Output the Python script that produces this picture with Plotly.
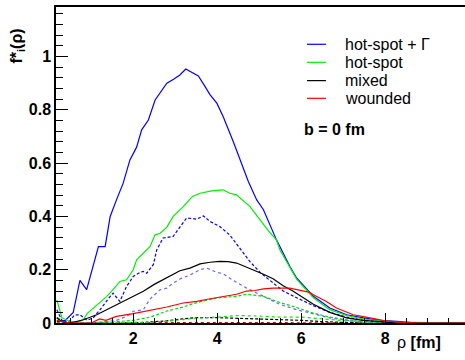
import plotly.graph_objects as go

# ---- data ----
hsg_x = [0.18, 0.38, 0.57, 0.73, 0.89, 1.17, 1.33, 1.45, 1.6, 1.76, 1.92, 2.08, 2.2, 2.36, 2.52, 2.66, 2.8, 2.96, 3.11, 3.25, 3.4, 3.55, 3.7, 3.83, 3.99, 4.14, 4.38, 4.58, 4.74, 4.94, 5.1, 5.41, 5.73, 5.89, 6.29, 6.68, 7.08, 7.48, 7.87, 8.27, 8.6, 9.9]
hsg_y = [0.005, 0.01, 0.04, 0.16, 0.125, 0.287, 0.287, 0.40, 0.462, 0.525, 0.612, 0.66, 0.725, 0.762, 0.837, 0.87, 0.90, 0.915, 0.931, 0.953, 0.94, 0.927, 0.89, 0.856, 0.825, 0.775, 0.681, 0.60, 0.531, 0.462, 0.425, 0.312, 0.212, 0.169, 0.10, 0.056, 0.031, 0.019, 0.01, 0.006, 0.002, 0.0]

hs_x = [0.18, 0.3, 0.5, 0.7, 0.81, 0.9, 1.05, 1.2, 1.37, 1.52, 1.68, 1.84, 2.0, 2.08, 2.24, 2.4, 2.52, 2.64, 2.8, 2.95, 3.19, 3.41, 3.59, 3.87, 4.14, 4.3, 4.46, 4.62, 4.78, 5.02, 5.25, 5.41, 5.49, 5.89, 6.29, 6.68, 7.08, 7.48, 7.87, 8.27, 9.9]
hs_y = [0.087, 0.02, 0.005, 0.005, 0.012, 0.035, 0.056, 0.075, 0.10, 0.125, 0.156, 0.162, 0.20, 0.237, 0.262, 0.287, 0.331, 0.337, 0.36, 0.40, 0.437, 0.475, 0.487, 0.496, 0.50, 0.487, 0.481, 0.46, 0.437, 0.387, 0.34, 0.312, 0.275, 0.165, 0.095, 0.05, 0.028, 0.015, 0.008, 0.003, 0.0]

mix_x = [0.18, 0.3, 0.5, 0.81, 1.13, 1.37, 1.6, 1.92, 2.24, 2.5, 2.8, 3.11, 3.35, 3.59, 3.83, 4.06, 4.26, 4.46, 4.66, 4.86, 5.1, 5.33, 5.57, 5.81, 6.05, 6.29, 6.68, 7.08, 7.48, 7.9, 8.3, 9.9]
mix_y = [0.02, 0.005, 0.0, 0.012, 0.031, 0.05, 0.069, 0.095, 0.119, 0.145, 0.169, 0.196, 0.206, 0.222, 0.228, 0.231, 0.23, 0.225, 0.212, 0.20, 0.183, 0.166, 0.14, 0.119, 0.095, 0.07, 0.04, 0.019, 0.01, 0.004, 0.0, 0.0]

wnd_x = [0.18, 0.5, 1.0, 1.2, 1.35, 1.6, 2.0, 2.4, 2.8, 3.19, 3.51, 3.8, 4.14, 4.46, 4.7, 4.9, 5.1, 5.33, 5.73, 5.97, 6.2, 6.29, 6.6, 6.84, 7.24, 7.64, 8.0, 8.4, 8.8, 9.9]
wnd_y = [0.01, 0.0, 0.0, 0.015, 0.01, 0.025, 0.035, 0.047, 0.06, 0.075, 0.081, 0.09, 0.10, 0.108, 0.12, 0.122, 0.128, 0.131, 0.131, 0.122, 0.115, 0.106, 0.081, 0.056, 0.031, 0.019, 0.008, 0.002, 0.0, 0.0]

hsg_dash_x = [0.18, 0.3, 0.45, 0.6, 0.73, 0.9, 1.05, 1.21, 1.4, 1.52, 1.68, 1.84, 2.0, 2.16, 2.24, 2.32, 2.48, 2.56, 2.71, 2.95, 3.11, 3.27, 3.51, 3.67, 3.83, 4.06, 4.3, 4.54, 4.78, 5.02, 5.25, 5.57, 5.89, 6.29, 6.68, 7.08, 7.48, 7.9, 8.3]
hsg_dash_y = [0.05, 0.01, 0.0, 0.03, 0.031, 0.01, 0.02, 0.05, 0.09, 0.112, 0.081, 0.137, 0.175, 0.19, 0.194, 0.187, 0.22, 0.275, 0.319, 0.325, 0.36, 0.394, 0.39, 0.402, 0.381, 0.362, 0.33, 0.28, 0.23, 0.19, 0.16, 0.12, 0.095, 0.065, 0.04, 0.022, 0.01, 0.004, 0.0]

hsg_dot_x = [0.18, 0.5, 1.0, 1.6, 1.84, 2.0, 2.24, 2.4, 2.64, 2.8, 2.95, 3.11, 3.35, 3.59, 3.75, 3.99, 4.14, 4.38, 4.7, 5.1, 5.49, 5.89, 6.29, 6.68, 7.08, 7.5, 8.0]
hsg_dot_y = [0.01, 0.0, 0.0, 0.01, 0.025, 0.044, 0.05, 0.09, 0.125, 0.131, 0.15, 0.165, 0.18, 0.20, 0.206, 0.19, 0.185, 0.16, 0.131, 0.10, 0.07, 0.05, 0.035, 0.019, 0.01, 0.004, 0.0]

hs_dash_x = [0.18, 1.0, 1.6, 2.0, 2.4, 2.8, 3.19, 3.35, 3.6, 3.99, 4.2, 4.46, 4.7, 4.9, 5.1, 5.41, 5.65, 5.89, 6.29, 6.68, 7.08, 7.5, 8.0]
hs_dash_y = [0.0, 0.0, 0.005, 0.01, 0.022, 0.045, 0.06, 0.069, 0.08, 0.094, 0.097, 0.10, 0.108, 0.105, 0.10, 0.081, 0.07, 0.058, 0.037, 0.022, 0.012, 0.005, 0.0]

hs_dot_x = [0.18, 0.4, 1.0, 2.5, 3.0, 3.5, 4.0, 4.5, 5.0, 5.5, 6.0, 6.5, 7.0, 7.5, 8.0]
hs_dot_y = [0.02, 0.005, 0.0, 0.003, 0.01, 0.018, 0.022, 0.028, 0.026, 0.022, 0.022, 0.015, 0.008, 0.002, 0.0]

mix_dash_x = [0.18, 0.4, 2.0, 2.8, 3.19, 3.51, 4.0, 4.5, 5.0, 5.5, 6.0, 6.5, 7.0, 7.5]
mix_dash_y = [0.02, 0.0, 0.0, 0.008, 0.016, 0.02, 0.02, 0.018, 0.016, 0.012, 0.01, 0.005, 0.002, 0.0]

wnd_dot_x = [0.18, 1.0, 2.0, 3.0, 4.0, 5.0, 6.0, 7.0, 8.0, 9.9]
wnd_dot_y = [0.003, 0.001, 0.002, 0.002, 0.002, 0.002, 0.002, 0.001, 0.0, 0.0]

x_ticks = [2, 4, 6, 8]
y_ticks = [0, 0.2, 0.4, 0.6, 0.8, 1]

legend_names = ["hot-spot + \u0393", "hot-spot", "mixed", "wounded"]
legend_colors = ["#0000ff", "#00ee00", "black", "#ff0000"]

FONT = "Liberation Sans, Arial, Helvetica, sans-serif"

fig = go.Figure()

def add(x, y, color, dash="solid", width=1.2):
    fig.add_trace(go.Scatter(
        x=x, y=y, mode="lines",
        line=dict(color=color, width=width, dash=dash),
        showlegend=False, hoverinfo="skip"))

# background series first
add(wnd_dot_x, wnd_dot_y, "#cc0000", "dot")
add(mix_dash_x, mix_dash_y, "black", "3px,2px")
add(hs_dot_x, hs_dot_y, "#00ee00", "dot")
add(hs_dash_x, hs_dash_y, "#00dd00", "3px,2px")
add(hsg_dot_x, hsg_dot_y, "#6666ff", "dot")
add(hsg_dash_x, hsg_dash_y, "#0000ff", "3px,2px")
add(hsg_x, hsg_y, legend_colors[0])
add(hs_x, hs_y, legend_colors[1])
add(mix_x, mix_y, legend_colors[2])
add(wnd_x, wnd_y, legend_colors[3])

fig.update_layout(
    width=465, height=360,
    margin=dict(l=56, r=0, t=7, b=37),
    paper_bgcolor="white", plot_bgcolor="white",
    font=dict(family=FONT, color="black"),
    showlegend=False,
    xaxis=dict(range=[0.16, 9.9], showgrid=False, zeroline=False, automargin=False,
               showline=True, linecolor="black", linewidth=1.5, mirror=True,
               tickmode="array", tickvals=x_ticks, ticktext=[str(v) for v in x_ticks],
               ticks="inside", ticklen=10, tickwidth=1.2, tickcolor="black",
               minor=dict(dtick=0.5, tick0=0, ticks="inside", ticklen=5, tickwidth=1, tickcolor="black"),
               tickfont=dict(size=16, family=FONT, weight="bold")),
    yaxis=dict(range=[0, 1.186], showgrid=False, zeroline=False, automargin=False,
               showline=True, linecolor="black", linewidth=1.5, mirror=False,
               tickmode="array", tickvals=y_ticks, ticktext=[("%g" % v) for v in y_ticks],
               ticks="inside", ticklen=12, tickwidth=1.2, tickcolor="black",
               minor=dict(dtick=0.04, tick0=0, ticks="inside", ticklen=7, tickwidth=1, tickcolor="black"),
               tickfont=dict(size=16, family=FONT, weight="bold")),
)

# manual legend (ROOT TLegend style, no frame)
row_y = [0.882, 0.825, 0.767, 0.711]
for name, col, yy in zip(legend_names, legend_colors, row_y):
    fig.add_shape(type="line", xref="paper", yref="paper",
                  x0=0.6137, x1=0.660, y0=yy, y1=yy,
                  line=dict(color=col, width=1.2))
    fig.add_annotation(text=name, xref="paper", yref="paper",
                       x=0.7017, y=yy, xanchor="left", yanchor="middle",
                       showarrow=False, font=dict(size=16, family=FONT))

fig.add_annotation(text="<b>f*<sub>i</sub>(\u03c1)</b>", xref="paper", yref="paper",
                   x=-0.095, y=0.937, xanchor="center", yanchor="top", textangle=-90,
                   showarrow=False, font=dict(size=16, family=FONT))
fig.add_annotation(text="\u03c1 <b>[fm]</b>", xref="paper", yref="paper",
                   x=0.946, y=-0.063, xanchor="right", yanchor="middle",
                   showarrow=False, font=dict(size=16, family=FONT))
fig.add_annotation(text="<b>b = 0 fm</b>", xref="paper", yref="paper",
                   x=0.601, y=0.611, xanchor="left", yanchor="middle",
                   showarrow=False, font=dict(size=16, family=FONT))

fig.write_html("out.html", config={"displayModeBar": False},
               post_script="document.body.style.margin='0';document.body.style.overflow='hidden';")
